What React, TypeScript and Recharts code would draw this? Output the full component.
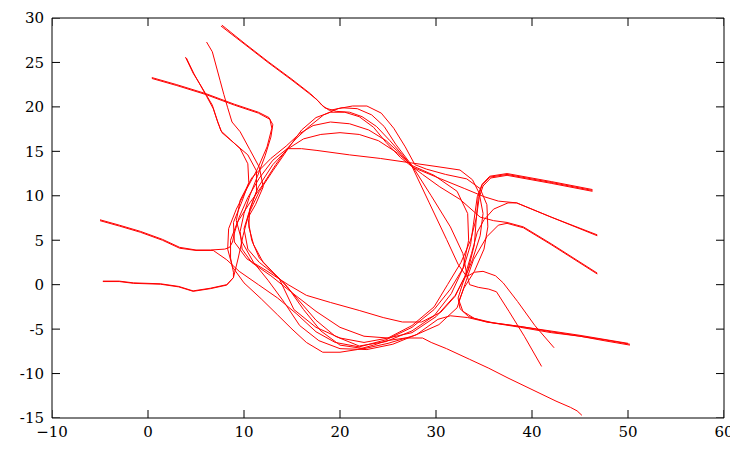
import React from 'react';
import { LineChart, Line, XAxis, YAxis, ReferenceArea } from 'recharts';

const xTicks = [-10, 0, 10, 20, 30, 40, 50, 60];
const yTicks = [-15, -10, -5, 0, 5, 10, 15, 20, 25, 30];
const xDomain = [-10, 60];
const yDomain = [-15, 30];

const track01 = [[0.4,23.3],[3,22.5],[6,21.5],[9,20.3],[11.5,19.4],[12.6,18.8],[13.0,18.0],[12.8,16.6],[12.2,14.5],[11.4,12.2],[10.6,10.0],[10.0,8.0],[9.6,6.0],[9.8,4.0],[10.8,2.5],[12.8,1.0],[15.0,-0.9],[17.5,-3.0],[20.0,-4.8],[22.5,-5.8],[25.0,-6.0],[27.5,-5.4],[30.0,-3.6],[32.0,-1.2],[33.3,1.5],[34.0,4.5],[34.2,7.5],[34.4,9.9],[34.8,11.2],[35.6,12.1],[37.4,12.4],[42,11.5],[46.3,10.6]];
const track02 = [[0.4,23.2],[3,22.4],[6,21.4],[9,20.2],[11.5,19.3],[12.7,18.6],[12.9,17.6],[12.4,15.5],[11.4,13.0],[10.3,10.8],[9.2,8.5],[8.4,6.3],[8.3,4.0],[8.8,2.0],[10.0,0.2],[11.8,-1.6],[13.5,-3.4],[15.0,-5.0],[16.5,-6.5],[18.2,-7.6],[20.0,-7.6],[21.8,-7.3],[23.5,-6.8],[24.9,-6.3],[26.8,-6.0],[28.6,-6.0],[29.5,-6.5],[31.1,-7.2],[33.5,-8.4],[35.5,-9.4],[37.5,-10.5],[40.0,-11.8],[42.5,-13.1],[44.0,-13.8],[44.7,-14.2],[45.2,-14.7]];
const track03 = [[3.9,25.6],[4.7,23.8],[5.5,22.4],[6.1,21.3],[6.7,20.2],[7.2,18.5],[7.6,17.3],[8.6,16.3],[9.6,15.3],[10.4,13.6],[10.5,11.5],[9.8,9.4],[8.9,7.0],[9.0,4.8],[10.3,2.9],[12.3,1.6],[14.6,0.0],[16.5,-1.2],[19,-2.0],[22,-2.9],[24.5,-3.7],[26.5,-4.2],[28.5,-4.2],[30.5,-3.1],[32.0,-1.3],[33.0,0.9],[33.7,3.5],[34.3,5.9],[35.0,7.3],[36.0,8.5],[37.5,9.2],[38.4,9.2],[42,7.6],[46.8,5.6]];
const track04 = [[4.0,25.5],[4.8,23.7],[6.1,21.2],[6.8,19.8],[7.3,18.2],[7.7,17.1],[9.0,15.9],[10.4,14.6],[11.3,12.8],[11.3,10.5],[10.6,8.4],[10.0,6.3],[10.4,4.0],[11.6,2.5],[13.6,0.8],[15.5,-1.5],[17.5,-4.0],[19.5,-5.8],[22,-6.9],[24.8,-6.4],[27.5,-5.2],[29.8,-3.5],[31.6,-1.0],[32.8,1.8],[33.4,5.0],[33.3,8.0],[32.2,10.5],[29.8,12.3],[27.5,13.4],[25.8,15.8],[24.6,17.8],[23.3,19.1],[21.8,19.8],[20.2,19.9],[18.9,19.6],[18.1,20.2],[17.6,20.8],[16.8,21.5],[15,23.0],[12.5,25.0],[10,27.1],[7.6,29.1]];
const track05 = [[6.1,27.3],[6.7,26.2],[7.1,24.6],[7.5,23.0],[7.9,21.4],[8.3,19.9],[8.75,18.3],[9.6,17.2],[10.6,15.2],[11.6,13.2],[12.0,11.0],[11.2,9.0],[10.4,7.5],[10.8,5.0],[11.6,3.0],[13.2,1.2],[14.5,-0.2],[16.2,-2.8],[18.0,-5.2],[20.0,-6.8],[22.5,-7.2],[25,-6.6],[27.8,-5.7],[30.3,-4.5],[32.2,-2.6],[33.0,0.0],[33.9,2.8],[35.3,5.4],[36.5,6.7],[37.4,6.9],[39.1,6.4],[42,4.5],[46.8,1.2]];
const track06 = [[50.2,-6.7],[47.5,-6.2],[45,-5.8],[42,-5.3],[38.8,-4.7],[35.3,-4.2],[33.4,-3.6],[32.5,-2.7],[32.3,-1.5],[32.8,0.2],[33.8,2.8],[34.6,5.5],[34.9,8.0],[34.5,10.3],[33.8,11.8],[32.5,12.9],[30,13.3],[27.4,13.7],[24.2,14.2],[21,14.6],[17.6,15.1],[16,15.3],[14.5,15.3],[13,14.0],[11.6,12.0],[10.4,9.8],[9.5,7.6],[9.0,5.8],[8.8,4.8],[8.5,4.2],[8.0,4.0],[6.5,3.9],[5,3.9],[3.3,4.2],[1.5,5.1],[-0.8,6.0],[-3,6.7],[-5,7.3]];
const track07 = [[50.0,-6.6],[45,-5.7],[40,-4.9],[36,-4.3],[34,-3.8],[32.8,-3.0],[32.4,-1.8],[32.9,-0.4],[34.0,1.5],[35.0,4.0],[35.4,6.5],[35.3,9.0],[34.6,10.8],[33.2,11.9],[31,12.4],[29,13.0],[27.8,13.5],[26.8,15.5],[25.6,17.6],[24.3,19.3],[22.8,20.1],[21.3,20.1],[19.8,19.8],[18.3,19.1],[16.8,17.8],[15.4,16.4],[14.5,15.3],[13.3,13.5],[12.0,11.3],[10.6,9.2],[9.3,7.0],[8.6,5.0],[8.6,3.0],[8.9,1.4],[8.9,0.8],[8.2,0.0],[6.5,-0.4],[4.7,-0.7],[3.2,-0.2],[1.3,0.1],[-1.5,0.2],[-3.0,0.4],[-4.7,0.4]];
const track08 = [[7.7,29.2],[10,27.2],[12.5,25.1],[15,23.1],[16.9,21.5],[17.7,20.7],[18.4,19.9],[19.6,19.5],[21,19.4],[22.3,18.9],[23.8,17.8],[25.2,16.2],[26.5,14.6],[27.5,13.3],[29.3,9.2],[31.1,5.1],[32.3,2.3],[33.2,0.9],[34.0,1.4],[34.9,1.5],[36.2,1.0],[37.0,0.2],[38.5,-1.9],[40.3,-4.6],[42.3,-7.1]];
const track09 = [[-5,7.2],[-3,6.6],[-0.8,5.9],[1.5,5.0],[3.3,4.1],[5,3.85],[6.8,3.85],[8.2,2.8],[9.5,1.5],[11.5,0.0],[13.5,-1.5],[15.5,-3.3],[17.5,-5.3],[19.5,-6.5],[22,-7.0],[24.8,-6.2],[27.5,-4.8],[29.8,-2.8],[31.5,-0.5],[32.9,2.0],[33.6,4.5],[33.9,6.8],[34.3,9.9],[34.8,11.3],[35.6,12.2],[37.4,12.5],[42,11.6],[46.3,10.7]];
const track10 = [[46.3,10.5],[42,11.4],[37.4,12.3],[35.7,12.0],[34.9,11.1],[34.5,9.8],[34.2,7.5],[33.6,5.0],[32.6,2.5],[31.2,0.0],[29.8,-2.5],[27.5,-4.6],[25,-6.0],[22.5,-6.5],[20,-6.0],[17.5,-4.8],[15.2,-2.8],[13.7,0.6],[12.0,2.5],[11.0,4.5],[10.5,6.5],[10.6,8.5],[11.5,11.0],[13.0,13.5],[14.5,15.2],[16.0,17.4],[17.5,18.8],[19.0,19.4],[20.5,19.4],[22,18.9],[23.5,17.7],[24.8,16.0],[26.3,14.3],[27.6,13.2],[30.5,11.9],[33,10.8],[35,9.9],[36.5,9.4],[38.4,9.2],[42,7.6],[46.8,5.5]];
const track11 = [[46.8,1.3],[42,4.6],[39.1,6.5],[37.4,7.0],[36,7.2],[34.6,7.6],[32.5,9.6],[30.4,11.0],[28.6,12.4],[27.5,13.3],[26.4,14.6],[24.8,16.2],[23,17.4],[21,18.1],[19,18.3],[17.2,17.9],[15.8,17.0],[14.4,15.6],[12.8,14.2],[10.8,12.0],[9.6,9.5],[9.2,7.2],[9.8,4.8],[11.0,2.5],[12.5,0.5],[14.2,-2.0],[15.8,-4.6],[17.8,-6.3],[20,-7.2],[22.8,-7.3],[25.5,-6.7],[28.0,-5.6],[30.2,-3.9],[31.5,-3.5],[33.3,-3.7],[35.3,-4.2],[38.8,-4.8],[42,-5.4],[45,-5.8],[47.5,-6.3],[50.2,-6.8]];
const track12 = [[-4.7,0.35],[-3,0.35],[-1.5,0.15],[1.3,0.05],[3.2,-0.25],[4.7,-0.75],[6.5,-0.45],[8.2,-0.05],[8.9,0.8],[9.4,3.0],[9.9,5.5],[10.5,8.0],[11.6,10.5],[13.0,12.8],[14.6,15.3],[16.2,16.4],[18,16.9],[20,17.1],[22,16.9],[24,16.2],[26,14.8],[27.5,13.4],[29.5,10.0],[31.5,6.5],[32.8,3.5],[33.2,1.2],[33.5,0.0],[34.4,-0.3],[35.5,-0.5],[36.3,-0.8],[37.6,-3.0],[39.2,-5.8],[41,-9.2]];

const tracks = [track01, track02, track03, track04, track05, track06, track07, track08, track09, track10, track11, track12];
const toPoints = (t: number[][]) => t.map(([x, y]) => ({ x, y }));

// layout constants (pixels)
const CHART_W = 730;
const CHART_H = 441;
const M_TOP = 10;
const M_RIGHT = 14;
const Y_AXIS_W = 44;
const X_AXIS_H = 31;
const PLOT_W = CHART_W - M_RIGHT - Y_AXIS_W;
const PLOT_H = CHART_H - M_TOP - X_AXIS_H;
const TICK_LEN = 8;
// inward tick length expressed in axis units
const xTickLen = (TICK_LEN / PLOT_W) * (xDomain[1] - xDomain[0]);
const yTickLen = (TICK_LEN / PLOT_H) * (yDomain[1] - yDomain[0]);

// inward tick marks on all four sides, built from the tick arrays
const tickSegments = [
  ...xTicks.map((t) => [{ x: t, y: yDomain[0] }, { x: t, y: yDomain[0] + yTickLen }]),
  ...xTicks.map((t) => [{ x: t, y: yDomain[1] }, { x: t, y: yDomain[1] - yTickLen }]),
  ...yTicks.map((t) => [{ x: xDomain[0], y: t }, { x: xDomain[0] + xTickLen, y: t }]),
  ...yTicks.map((t) => [{ x: xDomain[1], y: t }, { x: xDomain[1] - xTickLen, y: t }]),
];

const SERIF = '"DejaVu Serif", serif';
const fmtX = (v: number) => (v < 0 ? '\u2212' + Math.abs(v) : String(v));

const XTick = (props: any) => {
  const { x, y, payload } = props;
  return (
    <text x={x} y={y} dy="0.75em" textAnchor="middle" fontFamily={SERIF} fontSize={15} fill="#000">
      {fmtX(payload.value)}
    </text>
  );
};
const YTick = (props: any) => {
  const { x, y, payload } = props;
  return (
    <text x={x} y={y} dy="0.36em" textAnchor="end" fontFamily={SERIF} fontSize={15} fill="#000">
      {String(payload.value)}
    </text>
  );
};

export default function App() {
  return (
    <LineChart width={CHART_W} height={CHART_H} margin={{ top: M_TOP, right: M_RIGHT, bottom: 0, left: 0 }}>
      <XAxis dataKey="x" type="number" domain={xDomain} ticks={xTicks} allowDataOverflow interval={0}
        orientation="bottom" height={X_AXIS_H} tickLine={false} tickSize={0} tickMargin={8}
        axisLine={false} tick={XTick} />
      <YAxis dataKey="y" type="number" domain={yDomain} ticks={yTicks} allowDataOverflow interval={0}
        orientation="left" width={Y_AXIS_W} tickLine={false} tickSize={0} tickMargin={8}
        axisLine={false} tick={YTick} />
      <ReferenceArea x1={xDomain[0]} x2={xDomain[1]} y1={yDomain[0]} y2={yDomain[1]}
        fill="none" fillOpacity={0} stroke="#000" strokeWidth={1} strokeOpacity={1} ifOverflow="visible" />
      {tickSegments.map((seg, i) => (
        <Line key={'tick' + i} data={seg} dataKey="y" type="linear" stroke="#000" strokeWidth={1}
          dot={false} activeDot={false} isAnimationActive={false} legendType="none" />
      ))}
      {tracks.map((t, i) => (
        <Line key={i} data={toPoints(t)} dataKey="y" type="linear"
          stroke="#ff0000" strokeWidth={1} dot={false} activeDot={false} isAnimationActive={false} />
      ))}
    </LineChart>
  );
}
